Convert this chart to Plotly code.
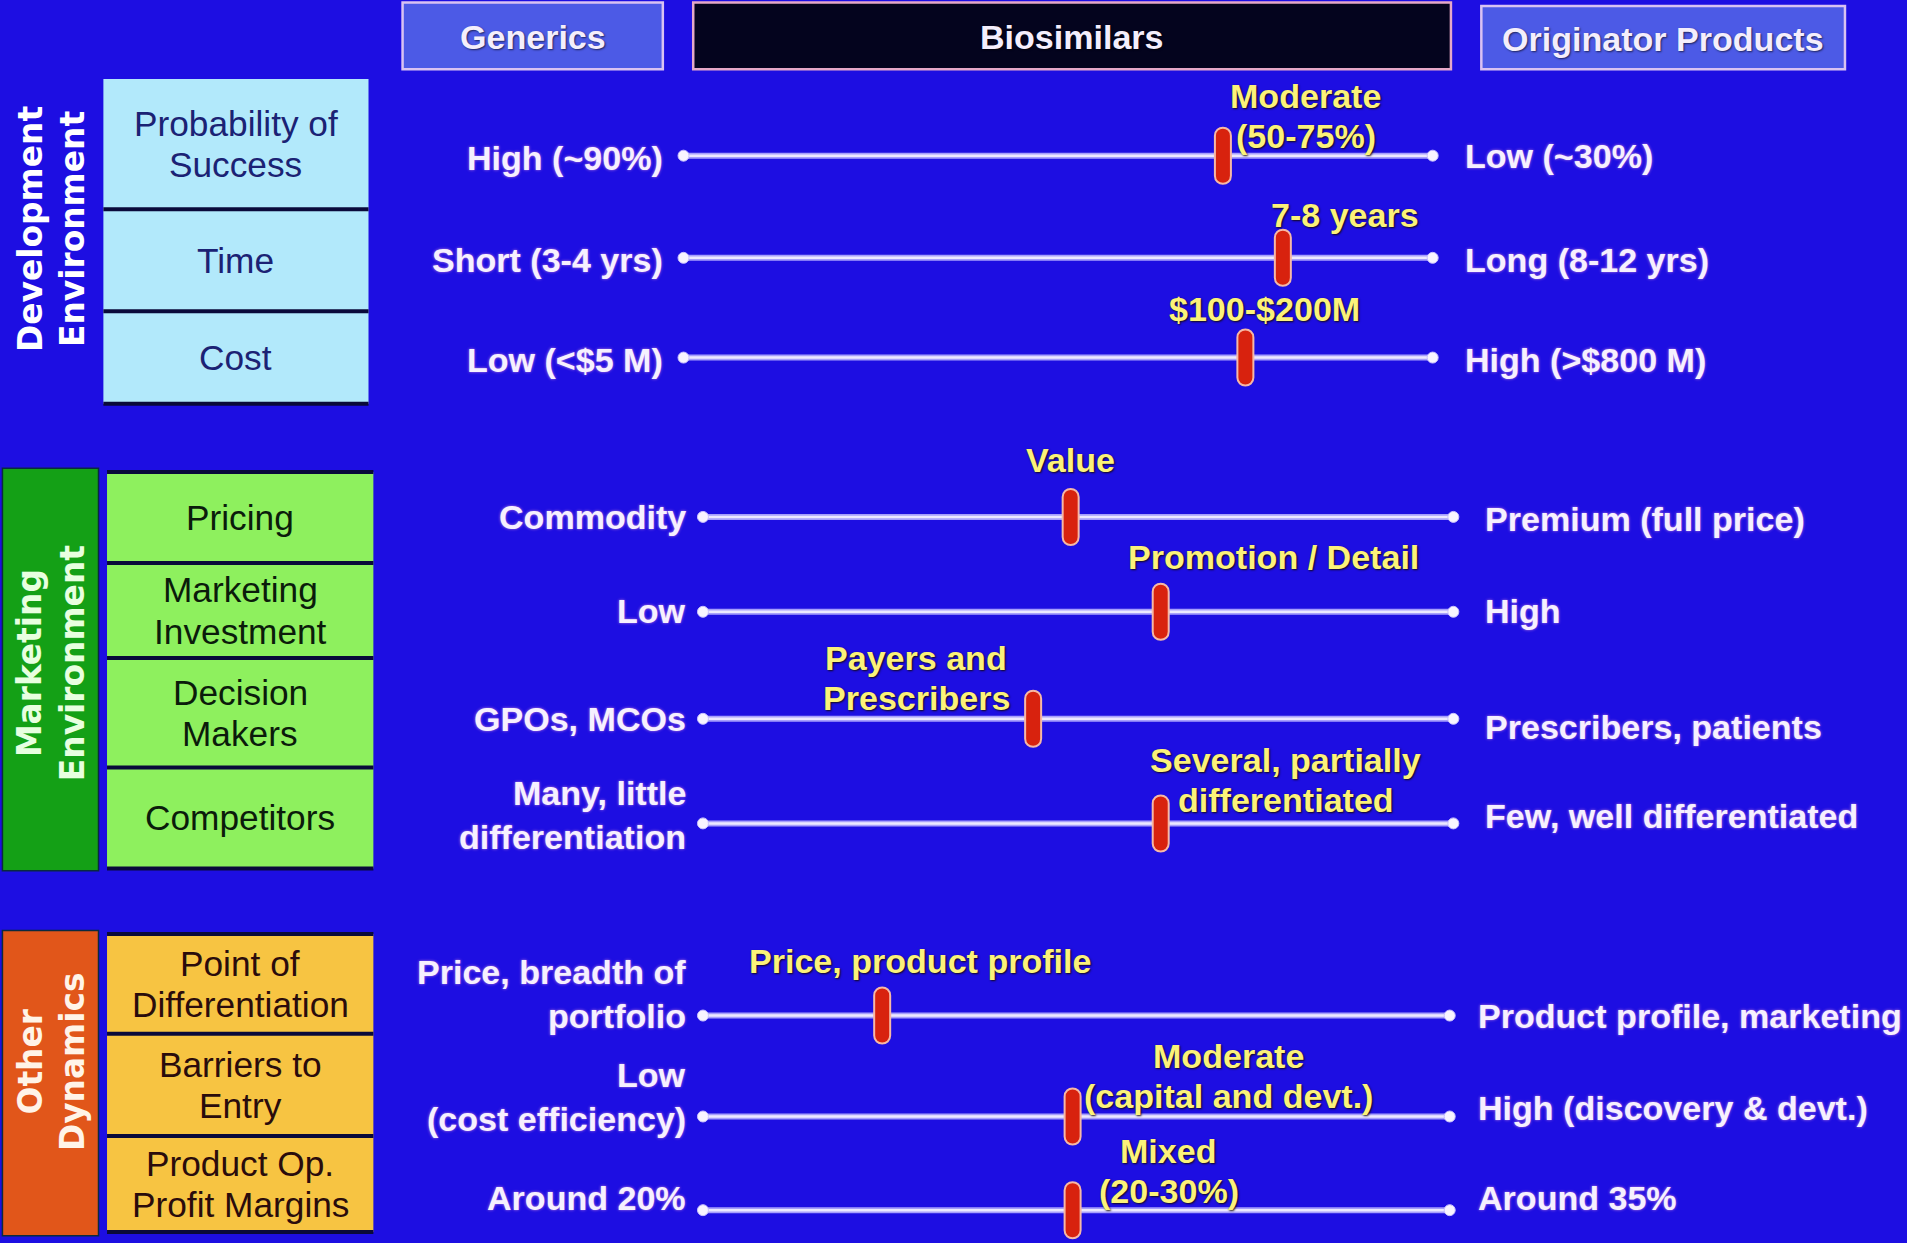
import plotly.graph_objects as go

# ---------------- data ----------------
column_headers = ["Generics", "Biosimilars", "Originator Products"]

sections = ["Development<br>Environment", "Marketing<br>Environment", "Other<br>Dynamics"]

dev_factors = ["Probability of<br>Success", "Time", "Cost"]
mkt_factors = ["Pricing", "Marketing<br>Investment", "Decision<br>Makers", "Competitors"]
oth_factors = ["Point of<br>Differentiation", "Barriers to<br>Entry", "Product Op.<br>Profit Margins"]

dev_generics = ["High (~90%)", "Short (3-4 yrs)", "Low (&lt;$5 M)"]
mkt_generics = ["Commodity", "Low", "GPOs, MCOs", "Many, little<br>differentiation"]
oth_generics = ["Price, breadth of<br>portfolio", "Low<br>(cost efficiency)", "Around 20%"]

dev_originator = ["Low (~30%)", "Long (8-12 yrs)", "High (&gt;$800 M)"]
mkt_originator = ["Premium (full price)", "High", "Prescribers, patients", "Few, well differentiated"]
oth_originator = ["Product profile, marketing", "High (discovery & devt.)", "Around 35%"]

dev_biosimilar = ["Moderate<br>(50-75%)", "7-8 years", "$100-$200M"]
mkt_biosimilar = ["Value", "Promotion / Detail", "Payers and<br>Prescribers",
                  "Several, partially<br>differentiated"]
oth_biosimilar = ["Price, product profile", "Moderate<br>(capital and devt.)", "Mixed<br>(20-30%)"]

# position of biosimilars on each scale: 0 = generics end, 100 = originator end
dev_position = [72, 80, 75]
mkt_position = [49, 61, 44, 61]
oth_position = [24, 49.5, 49.5]

# ---------------- layout / style ----------------
W, H = 1907, 1243
DW, DH = 1568, 1022          # design units used for the decoration axis
S = W / DW                   # design units -> pixels

BG = "#1d0ee2"
NARROW = "Liberation Sans, Arial, sans-serif"
SANS = "Liberation Sans, Arial, sans-serif"
ROUND = "DejaVu Sans, Verdana, sans-serif"
WHITE_TXT = "#f6f0ff"
YELLOW_TXT = "#fbf27a"
LBL = 28                     # label font size (design units)

# capsule outline for the biosimilar slider (pixels around its anchor)
CAPSULE = ("M -8,-20 L -8,20 C -8,30.7 8,30.7 8,20 "
           "L 8,-20 C 8,-30.7 -8,-30.7 -8,-20 Z")

sec_spec = [
    dict(factors=dev_factors, gen=dev_generics, orig=dev_originator, bio=dev_biosimilar,
         pos=dev_position,
         rows=[128, 212, 294], line=(562, 1178),
         gen_dy=[2, 2, 2], orig_dy=[0, 2, 2], orig_gap=25, gen_gap=15,
         bio_dx=[68, 51, 16], bio_dy=[-16, -35, -40],
         cells=[65, 172, 256, 332], cell_x=(85, 303), cell_fill="#b2e9fb", cell_txt="#1b2274",
         band=None, band_y=(62, 330), band_txt="#ffffff", sec_y=188),
    dict(factors=mkt_factors, gen=mkt_generics, orig=mkt_originator, bio=mkt_biosimilar,
         pos=mkt_position,
         rows=[425, 503, 591, 677], line=(578, 1195),
         gen_dy=[0, -1, 0, 11], orig_dy=[2, -1, 7, -6], orig_gap=24, gen_gap=12,
         bio_dx=[0, 93, -96, 103], bio_dy=[-47, -45, -17, -19],
         cells=[388, 463, 541, 631, 714], cell_x=(88, 307), cell_fill="#8ef05e", cell_txt="#0b1c0b",
         band="#14a016", band_y=(385, 716), band_txt="#e8ffe0", sec_y=545),
    dict(factors=oth_factors, gen=oth_generics, orig=oth_originator, bio=oth_biosimilar,
         pos=oth_position,
         rows=[835, 918, 995], line=(578, 1192),
         gen_dy=[0, 2, -10], orig_dy=[0, -7, -10], orig_gap=22, gen_gap=12,
         bio_dx=[31, 128, 79], bio_dy=[-45, -17, -16],
         cells=[768, 850, 934, 1013], cell_x=(88, 307), cell_fill="#f7c442", cell_txt="#2a0c0c",
         band="#e1561a", band_y=(765, 1016), band_txt="#fff4e8", sec_y=873),
]

fig = go.Figure()
shapes = []
annotations = []


def text(x, y, s, size, color, family, xref="x", xanchor="center", xshift=0,
         weight="normal", shadow="none", spacing=None, last_at_y=False, angle=0):
    """Place (possibly multi-line) text; y is in design units."""
    lines = s.split("<br>")
    sp = spacing if spacing is not None else size * 1.1
    n = len(lines)
    for i, ln in enumerate(lines):
        if last_at_y:
            yy = y - (n - 1 - i) * sp
        else:
            yy = y + (i - (n - 1) / 2) * sp
        annotations.append(dict(
            x=x, y=yy, xref=xref, yref="y", text=ln, showarrow=False,
            xanchor=xanchor, yanchor="middle", xshift=xshift * S, textangle=angle,
            font=dict(family=family, size=size * S, color=color, weight=weight,
                      shadow=shadow)))


# ---- column header boxes ----
header_boxes = [(331, 545, 2, 57, "#4c5ae6", "#d9c2f2"),
                (570, 1193, 2, 57, "#04041e", "#e6a8c8"),
                (1218, 1517, 5, 57, "#4c5ae6", "#d9c2f2")]
for (x0, x1, y0, y1, fill, edge), label in zip(header_boxes, column_headers):
    shapes.append(dict(type="rect", xref="x", yref="y", x0=x0, x1=x1, y0=y0, y1=y1,
                       fillcolor=fill, line=dict(color=edge, width=2.5), layer="below"))
    text((x0 + x1) / 2, (y0 + y1) / 2 + 1, label, LBL, "#f4eefc", NARROW, weight="bold",
         shadow="1px 1px 2px rgba(0,0,0,0.6)")

# ---- sections ----
for k, (sec, name) in enumerate(zip(sec_spec, sections)):
    ax = "x%d" % (k + 2)

    # section band with rotated title
    if sec["band"]:
        shapes.append(dict(type="rect", xref="x", yref="y", x0=2, x1=81,
                           y0=sec["band_y"][0], y1=sec["band_y"][1],
                           fillcolor=sec["band"], line=dict(color="#0a2a40", width=1.5),
                           layer="below"))
    annotations.append(dict(x=43, y=sec["sec_y"], xref="x", yref="y", text=name,
                            showarrow=False, textangle=-90,
                            font=dict(family=ROUND, size=27 * S, color=sec["band_txt"],
                                      weight="bold")))

    # factor cells
    cx0, cx1 = sec["cell_x"]
    cells = sec["cells"]
    shapes.append(dict(type="rect", xref="x", yref="y", x0=cx0, x1=cx1,
                       y0=cells[0], y1=cells[-1], fillcolor=sec["cell_fill"],
                       line=dict(width=0), layer="below"))
    for j, yb in enumerate(cells):
        if k == 0 and j == 0:
            continue
        shapes.append(dict(type="line", xref="x", yref="y", x0=cx0, x1=cx1, y0=yb, y1=yb,
                           line=dict(color="#0a0a3a", width=4), layer="below"))
    for j, fac in enumerate(sec["factors"]):
        yc = (cells[j] + cells[j + 1]) / 2
        text((cx0 + cx1) / 2, yc, fac, 29, sec["cell_txt"], SANS, spacing=34)

    # scale lines with end dots
    xs, ys = [], []
    for ry in sec["rows"]:
        xs += [0, 100, None]
        ys += [ry, ry, None]
    fig.add_trace(go.Scatter(x=xs, y=ys, xaxis=ax, yaxis="y", mode="lines",
                             line=dict(color="#a79ffc", width=6),
                             hoverinfo="skip", showlegend=False, cliponaxis=False))
    fig.add_trace(go.Scatter(x=xs, y=ys, xaxis=ax, yaxis="y", mode="lines+markers",
                             line=dict(color="#ece8ff", width=2.5),
                             marker=dict(size=11, color="#f8f4ff",
                                         line=dict(color="#c8c0ff", width=1)),
                             hoverinfo="skip", showlegend=False, cliponaxis=False))

    # biosimilar sliders, anchored at their scale values
    fig.add_trace(go.Scatter(x=sec["pos"], y=sec["rows"], xaxis=ax, yaxis="y", mode="markers",
                             marker=dict(size=1, color="rgba(0,0,0,0)"),
                             hoverinfo="skip", showlegend=False))
    for val, ry in zip(sec["pos"], sec["rows"]):
        shapes.append(dict(type="path", xref=ax, yref="y", xsizemode="pixel",
                           ysizemode="pixel", xanchor=val, yanchor=ry, path=CAPSULE,
                           fillcolor="#d8220e", line=dict(color="#f6b8a6", width=2)))

    # end labels and biosimilar labels
    for j, ry in enumerate(sec["rows"]):
        text(0, ry + sec["gen_dy"][j], sec["gen"][j], LBL, WHITE_TXT, NARROW, xref=ax,
             xanchor="right", xshift=-sec["gen_gap"], weight="bold", spacing=36,
             last_at_y=True, shadow="0px 0px 3px rgba(255,170,220,0.7)")
        text(100, ry + sec["orig_dy"][j], sec["orig"][j], LBL, WHITE_TXT, NARROW, xref=ax,
             xanchor="left", xshift=sec["orig_gap"], weight="bold",
             shadow="0px 0px 3px rgba(255,170,220,0.7)")
        text(sec["pos"][j], ry + sec["bio_dy"][j], sec["bio"][j], LBL, YELLOW_TXT, NARROW,
             xref=ax, xshift=sec["bio_dx"][j], weight="bold", spacing=33, last_at_y=True,
             shadow="1px 1px 2px rgba(20,10,0,0.9)")

axis_off = dict(visible=False, showgrid=False, zeroline=False, fixedrange=True)
layout_axes = dict(
    xaxis=dict(range=[0, DW], domain=[0, 1], anchor="y", **axis_off),
    yaxis=dict(range=[DH, 0], domain=[0, 1], anchor="x", **axis_off),
)
for k, sec in enumerate(sec_spec):
    a, b = sec["line"]
    layout_axes["xaxis%d" % (k + 2)] = dict(range=[0, 100], domain=[a / DW, b / DW],
                                            anchor="y", **axis_off)

fig.update_layout(
    width=W, height=H, autosize=False,
    margin=dict(l=0, r=0, t=0, b=0, pad=0),
    paper_bgcolor=BG, plot_bgcolor="rgba(0,0,0,0)",
    showlegend=False,
    shapes=shapes, annotations=annotations,
    **layout_axes,
)

fig.write_html("out.html", config={"displayModeBar": False})
